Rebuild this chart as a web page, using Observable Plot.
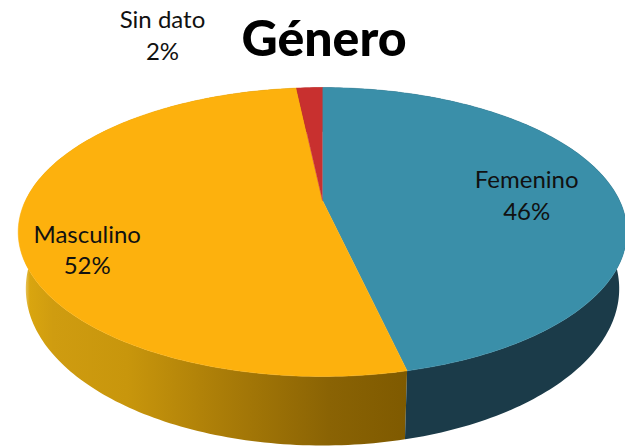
<!DOCTYPE html>
<html lang="es">
<head>
<meta charset="utf-8">
<script src="https://cdn.jsdelivr.net/npm/d3@7"></script>
<script src="https://cdn.jsdelivr.net/npm/@observablehq/plot@0.6"></script>
<style>
html,body{margin:0;padding:0;background:#fff;overflow:hidden}
svg{display:block}
</style>
</head>
<body>
<div id="chart"></div>
<script>
const chartTitle = "Género";
const categories = ["Femenino", "Masculino", "Sin dato"];
const shares = [46.4, 51.9, 1.7];
const topColors = ["#3a8fa9", "#fdb10d", "#c8302f"];
const sideFills = ["#1b3b49", "url(#sideYellow)", "#8c1f1f"];

// Perspective projection of the tilted disc
const W = 625, H = 446;
const cx = 322, cy = 200, R = 297, tilt = 137.6, k = 0.218, depth = 54, narrow = 0.975;
const project = (angleDeg, r = 1) => {
  const a = angleDeg * Math.PI / 180;
  const u = r * Math.sin(a), v = r * Math.cos(a), w = 1 + k * v;
  return {x: cx + R * u / w, y: cy - tilt * v / w, w};
};
const lower = (p) => ({x: cx + (p.x - cx) * narrow, y: p.y + depth / p.w});

// Slices from the shares, clockwise from twelve o'clock
let running = 0;
const slices = categories.map((name, i) => {
  const start = running * 3.6;
  running += shares[i];
  const end = running * 3.6;
  return {name, share: shares[i], start, end, mid: (start + end) / 2, i};
});
const arc = (s) => d3.range(s.start, s.end, 1).concat(s.end).map((a) => project(a));
const topPolygon = (s) => [{x: cx, y: cy}, ...arc(s)];
const sidePolygon = (s) => { const t = arc(s); return [...t, ...t.slice().reverse().map(lower)]; };

const rimOffset = {
  "Femenino": {r: 0.69, dx: 4, dy: 4},
  "Masculino": {r: 0.80, dx: 6, dy: 29},
  "Sin dato": {r: 1, dx: -147, dy: -54}
};
const labelPos = (s) => {
  const o = rimOffset[s.name], p = project(s.mid, o.r);
  return {x: p.x + o.dx, y: p.y + o.dy};
};

const defs = () => {
  const d = d3.create("svg:defs");
  const g = d.append("linearGradient").attr("id", "sideYellow")
    .attr("x1", 0).attr("x2", 1).attr("y1", 0).attr("y2", 0);
  [[0, "#fff6dc"], [0.03, "#d9a50f"], [0.09, "#cf9c10"], [0.28, "#c8960c"], [0.52, "#ab7d08"], [0.8, "#8a6304"], [1, "#7f5a00"]]
    .forEach(([o, c]) => g.append("stop").attr("offset", o).attr("stop-color", c));
  return d.node();
};

const sideOrder = [2, 1, 0].map((i) => slices[i]);

const plot = Plot.plot({
  width: W, height: H,
  margin: 0,
  style: {background: "#fff", overflow: "hidden"},
  x: {type: "linear", domain: [0, W], range: [0, W], axis: null},
  y: {type: "linear", domain: [0, H], range: [0, H], axis: null},
  marks: [
    defs,
    ...sideOrder.map((s) => Plot.line(sidePolygon(s), {x: "x", y: "y", fill: sideFills[s.i], stroke: "none"})),
    ...slices.map((s) => Plot.line(topPolygon(s), {x: "x", y: "y", fill: topColors[s.i], stroke: topColors[s.i], strokeWidth: 0.5})),
    Plot.text(slices, {
      x: (s) => labelPos(s).x,
      y: (s) => labelPos(s).y,
      text: (s) => `${s.name}\n${Math.round(s.share)}%`,
      fontFamily: "Lato",
      fontSize: 24,
      lineHeight: 1.33,
      fill: "#111"
    }),
    Plot.text([chartTitle], {
      frameAnchor: "top",
      dx: 11, dy: 20,
      lineAnchor: "top",
      fontFamily: "Lato",
      fontWeight: 900,
      fontSize: 50,
      fill: "#000"
    })
  ]
});
document.getElementById("chart").append(plot);
</script>
</body>
</html>
